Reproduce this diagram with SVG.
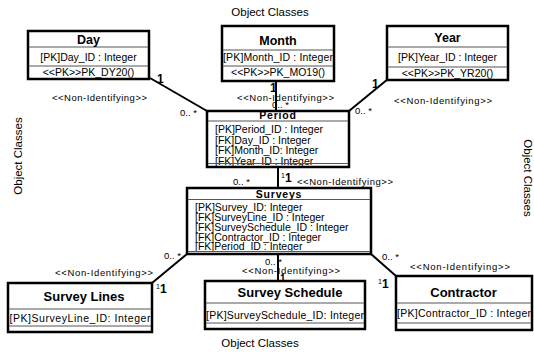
<svg xmlns="http://www.w3.org/2000/svg" width="534" height="352" viewBox="0 0 534 352">
  <style>
    text { font-family: "Liberation Sans", Arial, sans-serif; fill: #000; }
    .box { fill: #fff; stroke: #000; stroke-width: 2.5; }
    .sep { stroke: #555; stroke-width: 1; }
    .title { font-weight: bold; font-size: 12.5px; text-anchor: middle; }
    .ttl-sm { font-weight: bold; font-size: 10.5px; text-anchor: middle; letter-spacing: 0.8px; }
    .attr { font-size: 10.5px; }
    .attr-c { font-size: 10.5px; text-anchor: middle; }
    .lbl { font-size: 9.5px; }
    .lbl-c { font-size: 9.5px; text-anchor: middle; }
    .one { font-weight: bold; font-size: 12px; }
    .sup { font-size: 7px; }
    .cap { font-size: 11.5px; text-anchor: middle; }
    .conn { stroke: #000; stroke-width: 2; fill: none; }
  </style>

  <!-- captions -->
  <text class="cap" x="270" y="16">Object Classes</text>
  <text class="cap" x="260" y="347">Object Classes</text>
  <text class="cap" transform="translate(22,156) rotate(-90)">Object Classes</text>
  <text class="cap" transform="translate(524,178) rotate(90)">Object Classes</text>

  <!-- connectors -->
  <g id="connectors">
    <line class="conn" x1="150" y1="78" x2="207" y2="111"/>
    <line class="conn" x1="276" y1="81" x2="276" y2="111"/>
    <line class="conn" x1="388" y1="79" x2="349" y2="111"/>
    <line class="conn" x1="278" y1="167" x2="278" y2="188"/>
    <line class="conn" x1="187" y1="254" x2="152" y2="283"/>
    <line class="conn" x1="278" y1="254" x2="278" y2="281"/>
    <line class="conn" x1="371" y1="254" x2="396" y2="276"/>

    <!-- Day - Period -->
    <text class="one" x="157" y="83">1</text>
    <text class="lbl" x="52" y="101" textLength="95">&lt;&lt;Non-Identifying&gt;&gt;</text>
    <text class="lbl" x="180" y="116">0.. *</text>
    <!-- Month - Period -->
    <text class="one" x="270" y="92">1</text>
    <text class="lbl" x="237" y="101" textLength="97">&lt;&lt;Non-Identifying&gt;&gt;</text>
    <text class="lbl" x="272" y="108">0.. *</text>
    <!-- Year - Period -->
    <text class="one" x="372" y="88">1</text>
    <text class="lbl" x="394" y="104" textLength="98">&lt;&lt;Non-Identifying&gt;&gt;</text>
    <text class="lbl" x="355" y="114">0.. *</text>
    <!-- Period - Surveys -->
    <text class="sup" x="281" y="178">1</text>
    <text class="one" x="285" y="182">1</text>
    <text class="lbl" x="233" y="185">0.. *</text>
    <text class="lbl" x="297" y="185" textLength="96">&lt;&lt;Non-Identifying&gt;&gt;</text>
    <!-- Surveys - Survey Lines -->
    <text class="lbl" x="164" y="259">0.. *</text>
    <text class="lbl" x="55" y="276" textLength="98">&lt;&lt;Non-Identifying&gt;&gt;</text>
    <text class="sup" x="156" y="289">1</text>
    <text class="one" x="160" y="293">1</text>
    <!-- Surveys - Survey Schedule -->
    <text class="lbl" x="265" y="265">0.. *</text>
    <text class="lbl" x="242" y="274" textLength="98">&lt;&lt;Non-Identifying&gt;&gt;</text>
    <text class="one" x="280" y="282" style="font-size:10px">1</text>
    <!-- Surveys - Contractor -->
    <text class="lbl" x="382" y="260">0.. *</text>
    <text class="lbl" x="410" y="270" textLength="100">&lt;&lt;Non-Identifying&gt;&gt;</text>
    <text class="sup" x="378" y="284">1</text>
    <text class="one" x="382" y="288">1</text>
  </g>

  <g id="day">
    <rect class="box" x="28" y="31" width="121" height="48"/>
    <line class="sep" x1="29" y1="47" x2="148" y2="47"/>
    <line class="sep" x1="29" y1="66" x2="148" y2="66"/>
    <text class="title" x="88.5" y="43.5">Day</text>
    <text class="attr-c" x="88.5" y="61">[PK]Day_ID : Integer</text>
    <text class="attr-c" x="88.5" y="75.5">&lt;&lt;PK&gt;&gt;PK_DY20()</text>
  </g>

  <g id="month">
    <rect class="box" x="222" y="26" width="112" height="55"/>
    <line class="sep" x1="223" y1="50" x2="333" y2="50"/>
    <line class="sep" x1="223" y1="66" x2="333" y2="66"/>
    <text class="title" x="278" y="45">Month</text>
    <text class="attr-c" x="278" y="61" textLength="110">[PK]Month_ID : Integer</text>
    <text class="attr-c" x="278" y="76">&lt;&lt;PK&gt;&gt;PK_MO19()</text>
  </g>

  <g id="year">
    <rect class="box" x="387" y="26" width="121" height="54"/>
    <line class="sep" x1="388" y1="47" x2="507" y2="47"/>
    <line class="sep" x1="388" y1="67" x2="507" y2="67"/>
    <text class="title" x="447.5" y="41.5">Year</text>
    <text class="attr-c" x="447.5" y="61">[PK]Year_ID : Integer</text>
    <text class="attr-c" x="447.5" y="77">&lt;&lt;PK&gt;&gt;PK_YR20()</text>
  </g>

  <g id="period">
    <rect class="box" x="207" y="111" width="142" height="56"/>
    <line class="sep" x1="208" y1="121" x2="348" y2="121"/>
    <text class="ttl-sm" x="278" y="119">Period</text>
    <text class="attr" x="215" y="133">[PK]Period_ID : Integer</text>
    <text class="attr" x="215" y="143.5">[FK]Day_ID : Integer</text>
    <text class="attr" x="215" y="154">[FK]Month_ID: Integer</text>
    <text class="attr" x="215" y="164.5">[FK]Year_ID : Integer</text>
    <line class="sep" x1="208" y1="163.5" x2="348" y2="163.5"/>
  </g>

  <g id="surveys">
    <rect class="box" x="187" y="188" width="184" height="66"/>
    <line class="sep" x1="188" y1="199.5" x2="370" y2="199.5"/>
    <text class="ttl-sm" x="279" y="197.5">Surveys</text>
    <text class="attr" x="195" y="211">[PK]Survey_ID: Integer</text>
    <text class="attr" x="195" y="221">[FK]SurveyLine_ID : Integer</text>
    <text class="attr" x="195" y="230.5">[FK]SurveySchedule_ID : Integer</text>
    <text class="attr" x="195" y="240.5">[FK]Contractor_ID : Integer</text>
    <text class="attr" x="195" y="250">[FK]Period_ID : Integer</text>
    <line class="sep" x1="188" y1="251.5" x2="370" y2="251.5"/>
  </g>

  <g id="survey-lines">
    <rect class="box" x="8" y="283" width="144" height="49"/>
    <line class="sep" x1="9" y1="309" x2="151" y2="309"/>
    <line class="sep" x1="9" y1="326" x2="151" y2="326"/>
    <text class="title" x="84" y="301" style="font-size:13px">Survey Lines</text>
    <text class="attr-c" x="80" y="322" textLength="141">[PK]SurveyLine_ID: Integer</text>
  </g>

  <g id="survey-schedule">
    <rect class="box" x="205" y="281" width="160" height="48"/>
    <line class="sep" x1="206" y1="303" x2="364" y2="303"/>
    <line class="sep" x1="206" y1="323" x2="364" y2="323"/>
    <text class="title" x="290" y="297" style="font-size:13px">Survey Schedule</text>
    <text class="attr-c" x="285" y="319" textLength="158">[PK]SurveySchedule_ID: Integer</text>
  </g>

  <g id="contractor">
    <rect class="box" x="396" y="276" width="136" height="54"/>
    <line class="sep" x1="397" y1="303" x2="531" y2="303"/>
    <line class="sep" x1="397" y1="323" x2="531" y2="323"/>
    <text class="title" x="463.5" y="297" style="font-size:13px">Contractor</text>
    <text class="attr-c" x="464" y="317" textLength="134">[PK]Contractor_ID : Integer</text>
  </g>
</svg>
